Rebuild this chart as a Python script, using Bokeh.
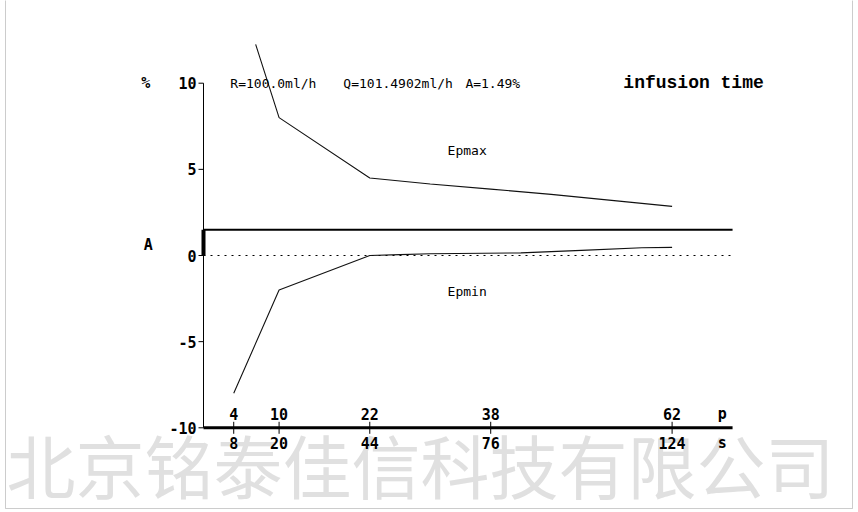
import math
from bokeh.plotting import figure
from bokeh.models import Range1d, Label, ColumnDataSource, BoxAnnotation
from bokeh.core.properties import value
from bokeh.embed import file_html
from bokeh.resources import INLINE

# ---- data ----
s_ticks = [8, 20, 44, 76, 124]
p_ticks = [4, 10, 22, 38, 62]
y_ticks = [-10, -5, 0, 5, 10]

epmax_s = [13.8, 20, 44, 60, 76, 92, 108, 124]
epmax_v = [12.25, 8.0, 4.5, 4.15, 3.85, 3.55, 3.2, 2.85]

epmin_s = [8, 20, 44, 52, 60, 84, 100, 116, 124]
epmin_v = [-8.0, -2.0, 0.0, 0.05, 0.1, 0.15, 0.3, 0.45, 0.47]

A_value = 1.49
R_value = 100.0
Q_value = 101.4902
s_max = 140
y_min, y_max = -10, 10

header_parts = [f"R={R_value:.1f}ml/h", f"Q={Q_value:.4f}ml/h", f"A={A_value:.2f}%"]
watermark = "北京铭泰佳信科技有限公司"

# ---- layout (pixel scale of the plotting area) ----
W, H = 858, 512
PX_S = 3.779      # px per second
PX_Y = 17.23      # px per percent
X0_PX, Y0_PX = 203.0, 255.0   # pixel location of the origin

x_range = Range1d(-X0_PX / PX_S, (W - X0_PX) / PX_S)
y_range = Range1d(-(H - Y0_PX) / PX_Y, Y0_PX / PX_Y)

MONO = "DejaVu Sans Mono"

p = figure(width=W, height=H, x_range=x_range, y_range=y_range,
           output_backend="svg", toolbar_location=None,
           x_axis_type=None, y_axis_type=None, min_border=0)
p.min_border_left = p.min_border_right = p.min_border_top = p.min_border_bottom = 0
p.outline_line_color = None
p.xgrid.grid_line_color = None
p.ygrid.grid_line_color = None
p.background_fill_color = "white"
p.border_fill_color = "white"

# watermark
p.add_layout(Label(x=6, y=49, x_units="screen", y_units="screen", text=watermark,
                   text_font="Noto Sans CJK SC", text_font_size="69px", text_color="#e0e0e0",
                   text_baseline="middle", text_align="left", level="underlay"))

# picture frame
p.add_layout(BoxAnnotation(left=5, right=852, top=4, bottom=H + 10,
                           left_units="screen", right_units="screen",
                           top_units="screen", bottom_units="screen",
                           fill_color=None, line_color="#555555", line_width=1))

# ---- y axis ----
tick_y = 5.0 / PX_S
p.line([0, 0], [y_min, y_max], line_color="black", line_width=1)
p.segment(x0=[0] * len(y_ticks), y0=y_ticks, x1=[-tick_y] * len(y_ticks), y1=y_ticks,
          line_color="black", line_width=1)
src_y = ColumnDataSource(dict(x=[0] * len(y_ticks), y=y_ticks, t=[str(v) for v in y_ticks]))
p.text(x="x", y="y", text="t", source=src_y, text_font=value(MONO), text_font_size="15px",
       text_font_style="bold", text_align="right", text_baseline="middle", x_offset=-7,
       text_color="black")

# ---- x axis ----
tick_x = 6.0 / PX_Y
p.line([0, s_max], [y_min, y_min], line_color="black", line_width=3)
p.segment(x0=s_ticks, y0=[y_min - tick_x] * len(s_ticks), x1=s_ticks,
          y1=[y_min + tick_x] * len(s_ticks), line_color="black", line_width=1)
src_x = ColumnDataSource(dict(x=s_ticks, y=[y_min] * len(s_ticks),
                              s=[str(v) for v in s_ticks], pt=[str(v) for v in p_ticks]))
p.text(x="x", y="y", text="s", source=src_x, text_font=value(MONO), text_font_size="15px",
       text_font_style="bold", text_align="center", text_baseline="middle", y_offset=15,
       text_color="black")
p.text(x="x", y="y", text="pt", source=src_x, text_font=value(MONO), text_font_size="15px",
       text_font_style="bold", text_align="center", text_baseline="middle", y_offset=-14,
       text_color="black")

# zero dotted line
p.line([0, s_max], [0, 0], line_color="black", line_width=1, line_dash="2 5")
# A line and bar
p.line([0, s_max], [A_value, A_value], line_color="black", line_width=2)
p.line([0, 0], [0, A_value], line_color="black", line_width=4)

# Epmax / Epmin
p.line(epmax_s, epmax_v, line_color="#111111", line_width=1.1)
p.line(epmin_s, epmin_v, line_color="#111111", line_width=1.1)


def lab(x, y, t, size="14px", font=MONO, style="normal", align="left", xo=0, yo=0):
    p.add_layout(Label(x=x, y=y, text=t, text_font=font, text_font_size=size,
                       text_font_style=style, text_align=align, text_baseline="middle",
                       x_offset=xo, y_offset=yo, text_color="black"))


lab(-15.3, y_max, "%", size="15px", style="bold", align="center")
lab(-14.6, A_value / 2, "A", size="15px", style="bold", align="center", yo=-2)
for xs, t in zip([7.1, 37.0, 69.3], header_parts):
    lab(xs, y_max, t, size="13px")
lab(111.1, y_max, "infusion time", size="18px", font="Liberation Mono", style="bold")
lab(64.6, 6.1, "Epmax", size="13px")
lab(64.6, -2.1, "Epmin", size="13px")
lab(137.3, y_min, "p", size="15px", style="bold", align="center", yo=14)
lab(137.3, y_min, "s", size="15px", style="bold", align="center", yo=-15)

open("out.html", "w").write(file_html(p, INLINE))
